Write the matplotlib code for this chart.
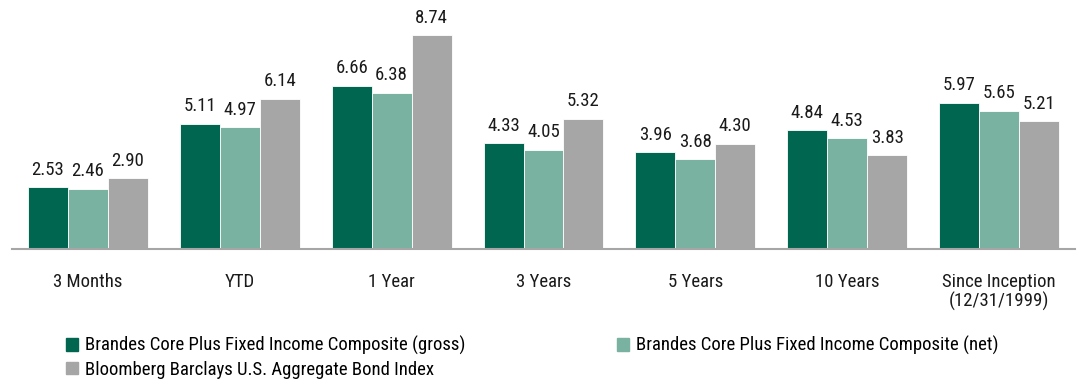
import numpy as np
import matplotlib.pyplot as plt
from matplotlib.patches import Patch

plt.rcParams["font.family"] = ["Roboto Condensed", "DejaVu Sans"]

periods = ["3 Months", "YTD", "1 Year", "3 Years", "5 Years", "10 Years",
           "Since Inception\n(12/31/1999)"]
gross = [2.53, 5.11, 6.66, 4.33, 3.96, 4.84, 5.97]
net = [2.46, 4.97, 6.38, 4.05, 3.68, 4.53, 5.65]
index = [2.90, 6.14, 8.74, 5.32, 4.30, 3.83, 5.21]

series = ["Brandes Core Plus Fixed Income Composite (gross)",
          "Brandes Core Plus Fixed Income Composite (net)",
          "Bloomberg Barclays U.S. Aggregate Bond Index"]
colors = ["#00664f", "#7ab2a2", "#a6a6a6"]

fig = plt.figure(figsize=(10.81, 3.85), dpi=100)
ax = fig.add_axes([12 / 1081, 136 / 385, 1063 / 1081, 239 / 385])

x = np.arange(len(periods))
w = 0.263
for i, (vals, col) in enumerate(zip([gross, net, index], colors)):
    pos = x + (i - 1) * w
    bars = ax.bar(pos, vals, width=w, color=col, edgecolor="white", linewidth=0.6)
    for b, v in zip(bars, vals):
        ax.annotate(f"{v:.2f}", (b.get_x() + b.get_width() / 2, v),
                    xytext=(0, 6), textcoords="offset points",
                    ha="center", va="bottom", fontsize=13.5, color="#1a1a1a")

ax.set_xlim(-0.5, 6.5)
ax.set_ylim(0, 239 / 24.5)
ax.set_xticks(x)
ax.set_xticklabels(periods, fontsize=13.5, color="#1a1a1a", linespacing=1.05)
ax.tick_params(axis="x", length=0, pad=17)
ax.set_yticks([])
for s in ["top", "right", "left"]:
    ax.spines[s].set_visible(False)
ax.spines["bottom"].set_color("#a6a6a6")
ax.spines["bottom"].set_linewidth(1.5)

handles = [Patch(color=c) for c in colors]
order = [0, 2, 1]
fig.legend([handles[k] for k in order], [series[k] for k in order],
           ncol=2, loc="upper left", bbox_to_anchor=(66 / 1081, 1 - 336 / 385),
           frameon=False, fontsize=13.5, handlelength=0.65, handleheight=0.65,
           handletextpad=0.35, columnspacing=8.1, labelspacing=0.3,
           borderpad=0, borderaxespad=0)

fig.savefig("out.png", dpi=100)
